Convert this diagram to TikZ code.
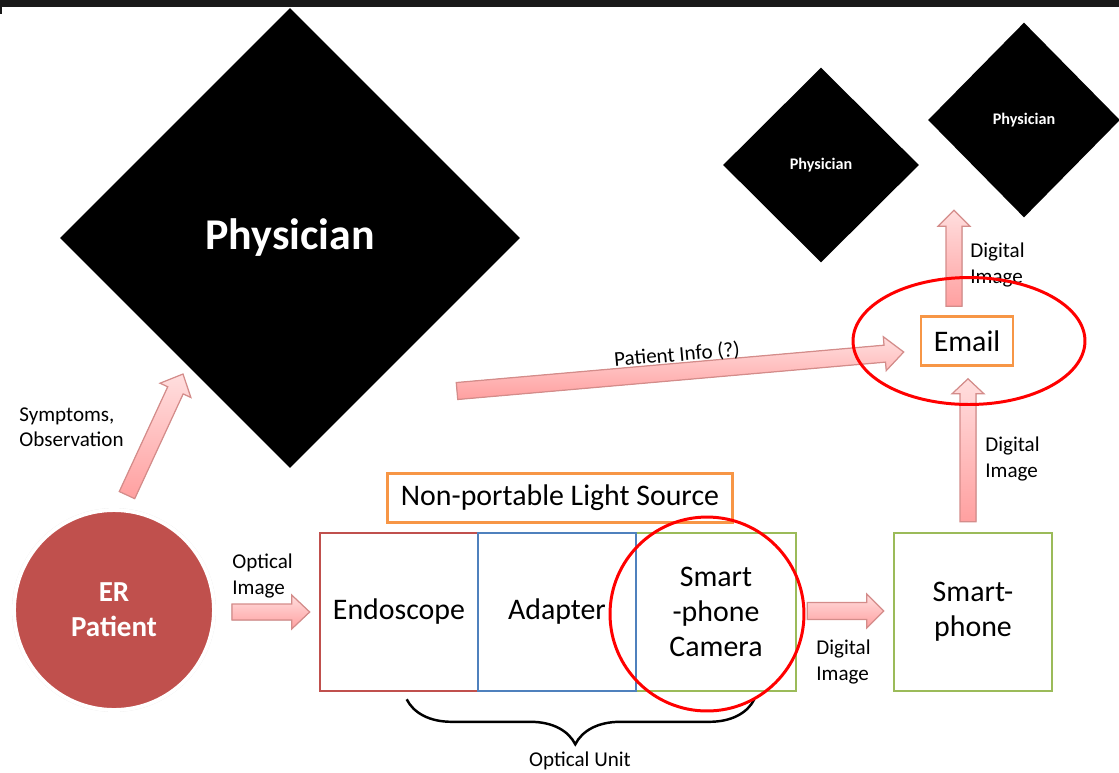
\documentclass[tikz,border=0pt]{standalone}
\usepackage{fontspec}
\setmainfont{Carlito}
\usepackage{tikz}
\usetikzlibrary{arrows.meta,positioning,shapes.geometric,calc,shadows,decorations.pathreplacing}
\usepackage{xcolor}
\definecolor{erred}{RGB}{192,80,77}
\definecolor{boxblue}{RGB}{79,129,189}
\definecolor{boxgreen}{RGB}{155,187,89}
\definecolor{boxorange}{RGB}{247,150,70}
\definecolor{arrowlight}{RGB}{255,222,222}
\definecolor{arrowdark}{RGB}{255,160,160}
\definecolor{arrowedge}{RGB}{212,140,138}
\tikzset{
    physbox/.style={diamond, fill=black, text=white, font=\bfseries, inner sep=0pt, aspect=1},
    unitbox/.style={draw, line width=1.5pt, fill=white, align=center, font=\fontsize{17}{20}\selectfont, minimum width=3.16cm, minimum height=3.16cm},
    tagbox/.style={draw=boxorange, line width=1.5pt, fill=white, align=center, font=\fontsize{17}{20}\selectfont, minimum height=0.98cm},
    fatarrow/.style={draw=arrowedge, line width=0.7pt, top color=arrowlight, bottom color=arrowdark, line join=miter},
    arrowlabel/.style={align=left, anchor=west, inner sep=0pt, font=\fontsize{12}{14.5}\selectfont},
    hilite/.style={draw=red, line width=1.7pt}
}
% block arrow: start, end, half shaft, half head, head length
\newcommand{\fatarrow}[5]{%
    \coordinate (fa-a) at (#1);
    \coordinate (fa-b) at (#2);
    \coordinate (fa-h) at ($(fa-b)!#5!(fa-a)$);
    \filldraw[fatarrow] ($(fa-a)!#3!90:(fa-b)$) -- ($(fa-h)!#3!90:(fa-b)$) -- ($(fa-h)!#4!90:(fa-b)$) -- (fa-b)
        -- ($(fa-h)!#4!-90:(fa-b)$) -- ($(fa-h)!#3!-90:(fa-b)$) -- ($(fa-a)!#3!-90:(fa-b)$) -- cycle;
}
\begin{document}
\begin{tikzpicture}[x=0.02cm, y=-0.02cm]
        \useasboundingbox (0,0) rectangle (1119,772);
        \fill[black!90] (0,0) rectangle (1119,7);
        \fill[black!90] (0,7) rectangle (2,14);

        \node[physbox, minimum width=9.2cm, minimum height=9.2cm, font=\bfseries\fontsize{25}{30}\selectfont] (phys) at (290,238) {\raisebox{-0.08cm}{Physician}};
        \node[physbox, minimum width=3.92cm, minimum height=3.9cm, font=\bfseries\fontsize{9.2}{11}\selectfont] (physA) at (821,165) {Physician};
        \node[physbox, minimum width=3.84cm, minimum height=3.9cm, font=\bfseries\fontsize{9.2}{11}\selectfont] (physB) at (1024,120) {Physician};

        \node[circle, fill=erred, draw=white, line width=2.2pt, minimum size=4cm, text=white, align=center,
              font=\bfseries\fontsize{16.5}{20}\selectfont,
              drop shadow={opacity=0.2, shadow xshift=0pt, shadow yshift=0pt, shadow scale=1.02}] (er) at (114,610) {ER\\Patient};

        \node[unitbox, draw=erred] (endo) at (399,612) {Endoscope};
        \node[unitbox, draw=boxgreen, minimum width=3.2cm] (cam) at (716,612) {Smart\\-phone\\Camera};
        \node[unitbox, draw=boxblue] (adapt) at (557,612) {Adapter};
        \node[unitbox, draw=boxgreen] (phone) at (973,612) {Smart-\\phone};
        \node[tagbox, minimum width=6.9cm] (light) at (560,498) {Non-portable Light Source};
        \node[tagbox, minimum width=1.84cm] (email) at (967,341) {Email};

        \fatarrow{$(er.north)+(13,-13)$}{$(phys.center)+(-107,136)$}{0.17cm}{0.34cm}{0.36cm}
        \fatarrow{$(er.east)+(16,2)$}{$(endo.west)+(-9,0)$}{0.16cm}{0.34cm}{0.36cm}
        \fatarrow{$(phys.center)+(167,153)$}{$(email.west)+(-16,11)$}{0.17cm}{0.34cm}{0.38cm}
        \fatarrow{$(cam.east)+(10,-1)$}{$(phone.west)+(-9,-1)$}{0.17cm}{0.34cm}{0.34cm}
        \fatarrow{$(phone.north)+(-5,-10)$}{$(email.south)+(1,12)$}{0.16cm}{0.32cm}{0.3cm}
        \fatarrow{$(email.north)+(-13,-9)$}{$(email.north)+(-13,-105)$}{0.16cm}{0.32cm}{0.32cm}

        \node[arrowlabel] (symp) at (19,427) {Symptoms,\\Observation};
        \node[arrowlabel] (optimg) at (232,576) {Optical\\Image};
        \node[arrowlabel] (dig1) at (816,662) {Digital\\Image};
        \node[arrowlabel] (dig2) at (985,459) {Digital\\Image};
        \node[arrowlabel] (dig3) at (970,265) {Digital\\Image};
        \node[font=\fontsize{12}{14.5}\selectfont, rotate=5, inner sep=0pt] (pinfo) at (677,355) {Patient Info (?)};

        \draw[line width=1.4pt, decorate, decoration={brace, mirror, amplitude=0.9cm, aspect=0.485}]
            ($(endo.south west)+(88,7)$) -- ($(cam.south east)+(-43,7)$) coordinate (braceend);
        \node[font=\fontsize{12}{14.5}\selectfont, inner sep=0pt] (unit) at (580,761) {Optical Unit};

        \draw[hilite] (707,614) circle [radius=1.94cm];
        \draw[hilite] (969,341) ellipse [x radius=2.32cm, y radius=1.27cm];
    \end{tikzpicture}
\end{document}
